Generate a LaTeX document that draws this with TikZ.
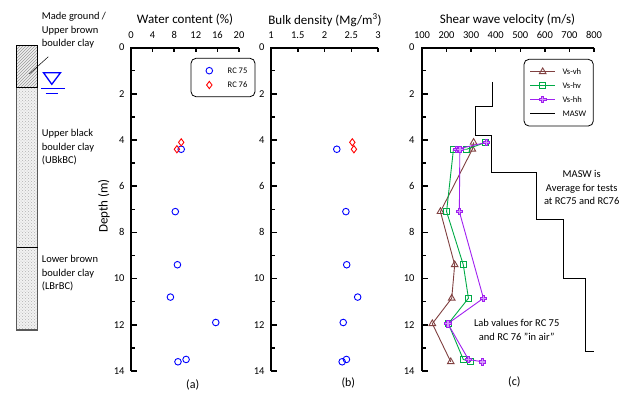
\documentclass[tikz,border=0pt]{standalone}
\usepackage{fontspec}
\setmainfont{Carlito}
\usetikzlibrary{patterns,plotmarks}
\definecolor{vsbrown}{RGB}{128,64,64}
\definecolor{vsgreen}{RGB}{0,170,70}
\definecolor{vspurple}{RGB}{160,32,240}
\definecolor{wblue}{RGB}{0,0,255}
\definecolor{wred}{RGB}{255,0,0}
\pgfdeclareplotmark{fatplus}{%
  \pgfpathmoveto{\pgfqpoint{-.35\pgfplotmarksize}{\pgfplotmarksize}}%
  \pgfpathlineto{\pgfqpoint{.35\pgfplotmarksize}{\pgfplotmarksize}}%
  \pgfpathlineto{\pgfqpoint{.35\pgfplotmarksize}{.35\pgfplotmarksize}}%
  \pgfpathlineto{\pgfqpoint{\pgfplotmarksize}{.35\pgfplotmarksize}}%
  \pgfpathlineto{\pgfqpoint{\pgfplotmarksize}{-.35\pgfplotmarksize}}%
  \pgfpathlineto{\pgfqpoint{.35\pgfplotmarksize}{-.35\pgfplotmarksize}}%
  \pgfpathlineto{\pgfqpoint{.35\pgfplotmarksize}{-\pgfplotmarksize}}%
  \pgfpathlineto{\pgfqpoint{-.35\pgfplotmarksize}{-\pgfplotmarksize}}%
  \pgfpathlineto{\pgfqpoint{-.35\pgfplotmarksize}{-.35\pgfplotmarksize}}%
  \pgfpathlineto{\pgfqpoint{-\pgfplotmarksize}{-.35\pgfplotmarksize}}%
  \pgfpathlineto{\pgfqpoint{-\pgfplotmarksize}{.35\pgfplotmarksize}}%
  \pgfpathlineto{\pgfqpoint{-.35\pgfplotmarksize}{.35\pgfplotmarksize}}%
  \pgfpathclose\pgfusepathqfillstroke}
\begin{document}
\begin{tikzpicture}[x=1pt,y=-1pt,
  axisline/.style={line width=1.8pt},
  tickmark/.style={line width=1.5pt},
  ticklab/.style={font=\fontsize{10.5}{12}\selectfont, inner sep=1pt},
  titlelab/.style={font=\fontsize{13}{15}\selectfont, inner sep=0pt},
  sublab/.style={font=\fontsize{12}{14}\selectfont, inner sep=0pt},
  soillab/.style={font=\fontsize{10.5}{13.2}\selectfont, align=left, anchor=north west, inner sep=0pt},
  notelab/.style={font=\fontsize{10.5}{13.5}\selectfont, align=center, inner sep=0pt},
  leglab/.style={font=\fontsize{8.5}{10}\selectfont, anchor=west, inner sep=0pt},
  legbox/.style={rounded corners=5pt, line width=0.8pt},
  circmark/.style={only marks, mark=o, mark size=3.3pt, mark options={wblue, line width=0.9pt}},
  diamark/.style={only marks, mark=diamond, mark size=3.6pt, mark options={wred, line width=0.9pt}},
  vhline/.style={vsbrown, line width=0.9pt, mark=triangle, mark size=3.8pt, mark options={vsbrown, line width=0.9pt}},
  hvline/.style={vsgreen, line width=0.9pt, mark=square, mark size=3pt, mark options={vsgreen, line width=0.9pt}},
  hhline/.style={vspurple, line width=0.9pt, mark=fatplus, mark size=3.2pt, mark options={draw=vspurple, fill=vspurple!45, line width=0.7pt}},
  maswline/.style={black, line width=1.1pt}
]
\useasboundingbox (0,0) rectangle (639,402);

% ---------- soil column ----------
\fill[gray!12] (16.7,45.7) rectangle (37.7,87.3);
\fill[pattern=north east lines, pattern color=gray!80] (16.7,45.7) rectangle (37.7,87.3);
\fill[gray!10] (16.7,87.3) rectangle (37.7,330);
\fill[pattern=crosshatch dots, pattern color=gray!60] (16.7,87.3) rectangle (37.7,330);
\draw[gray!70!black, line width=1.3pt] (16.7,87.3) rectangle (37.7,330);
\draw[black, line width=1.2pt] (16.7,45.7) rectangle (37.7,87.3);
\draw[black, line width=1.4pt] (16.7,247.3) -- (37.7,247.3);
\draw[black, line width=0.5pt] (48.3,56.7) -- (29.3,74);
% water table
\draw[wblue, line width=1.3pt, line join=miter] (43.5,72.7) -- (60.5,72.7) -- (51.8,84.3) -- cycle;
\draw[wblue, line width=1pt] (41,88.5) -- (65,88.5);
\draw[wblue, line width=1pt] (45.7,93.3) -- (58.3,93.3);

\node[soillab] (mg) at (41.7,12.5) {Made ground /\\Upper brown\\boulder clay};
\node[soillab] (ub) at (41.7,129.5) {Upper black\\boulder clay\\(UBkBC)};
\node[soillab] (lb) at (41.7,255.5) {Lower brown\\boulder clay\\(LBrBC)};

\node[titlelab, rotate=90] (depth) at (104,206) {Depth (m)};

% ---------- panel (a) ----------
\node[titlelab] (ta) at (185,19.5) {Water content (\%)};
\begin{scope}[shift={(131,47.6)}, x=5.4pt, y=-23.1pt]
  \draw[axisline] (0,14) -- (0,0) -- (20,0);
  \foreach \w in {4,8,...,20} \draw[tickmark] (\w,0) -- ++(0pt,-4.5pt);
  \foreach \w in {0,4,...,20} \node[ticklab] at (\w,-0.56) {\w};
  \foreach \d in {2,4,...,14} \draw[tickmark] (0,\d) -- ++(5.5pt,0pt);
  \foreach \d in {1,3,...,13} \draw[tickmark] (0,\d) -- ++(3.5pt,0pt);
  \foreach \d in {0,2,...,14} \node[ticklab, anchor=east] at (-1.0,\d) {\d};
  \draw[circmark] plot coordinates {(9.3,4.4) (8.2,7.1) (8.6,9.4) (7.3,10.8) (15.7,11.9) (10.2,13.5) (8.7,13.6)};
  \draw[diamark] plot coordinates {(9.3,4.1) (8.5,4.4)};
\end{scope}
\draw[legbox] (191,58.3) rectangle (255,96.7);
\draw[circmark] plot coordinates {(209.3,70.7)};
\draw[diamark] plot coordinates {(209.3,85)};
\node[leglab] (l75) at (227.5,70.7) {RC 75};
\node[leglab] (l76) at (227.5,85) {RC 76};
\node[sublab] (sa) at (192.7,385) {(a)};

% ---------- panel (b) ----------
\node[titlelab] (tb) at (325,20) {Bulk density (Mg/m\textsuperscript{3})};
\begin{scope}[shift={(217.5,47.6)}, x=53.5pt, y=-23.1pt]
  \draw[axisline] (1,14) -- (1,0) -- (3,0);
  \foreach \w in {1.5,2,2.5,3} \draw[tickmark] (\w,0) -- ++(0pt,-4.5pt);
  \foreach \w in {1,1.5,2,2.5,3} \node[ticklab] at (\w,-0.56) {\w};
  \foreach \d in {2,4,...,14} \draw[tickmark] (1,\d) -- ++(5.5pt,0pt);
  \foreach \d in {1,3,...,13} \draw[tickmark] (1,\d) -- ++(3.5pt,0pt);
  \foreach \d in {0,2,...,14} \node[ticklab, anchor=east] at (0.9,\d) {\d};
  \draw[circmark] plot coordinates {(2.23,4.4) (2.4,7.1) (2.415,9.4) (2.62,10.8) (2.35,11.9) (2.41,13.5) (2.33,13.6)};
  \draw[diamark] plot coordinates {(2.52,4.1) (2.55,4.4)};
\end{scope}
\node[sublab] (sb) at (348.3,383) {(b)};

% ---------- panel (c) ----------
\node[titlelab] (tc) at (507.5,19.5) {Shear wave velocity (m/s)};
\begin{scope}[shift={(397.43,47.6)}, x=0.2457pt, y=-23.1pt]
  \draw[axisline] (100,14) -- (100,0) -- (800,0);
  \foreach \w in {200,300,...,800} \draw[tickmark] (\w,0) -- ++(0pt,-4.5pt);
  \foreach \w in {100,200,...,800} \node[ticklab] at (\w,-0.56) {\w};
  \foreach \d in {2,4,...,14} \draw[tickmark] (100,\d) -- ++(5.5pt,0pt);
  \foreach \d in {1,3,...,13} \draw[tickmark] (100,\d) -- ++(3.5pt,0pt);
  \foreach \d in {0,2,...,14} \node[ticklab, anchor=east] at (74,\d) {\d};
  \draw[maswline] (386,1.48) -- (386,2.55) -- (317,2.55) -- (317,3.8) -- (384,3.8) -- (384,5.4) -- (567,5.4) -- (567,7.45) -- (675,7.45) -- (675,10) -- (767,10) -- (767,13.17) -- (800,13.17);
  \draw[vhline] plot coordinates {(310,4.1) (305,4.4) (175,7.1) (233,9.4) (221,10.85) (142,11.95) (217,13.6)};
  \draw[hvline] plot coordinates {(360,4.1) (282,4.4) (228,4.4) (200,7.1) (268,9.4) (289,10.85) (207,11.95) (268,13.5) (299,13.6)};
  \draw[hhline] plot coordinates {(363,4.1) (241,4.4) (254,4.4) (252,7.1) (350,10.85) (205,11.95) (289,13.5) (345,13.6)};
\end{scope}
\draw[legbox] (524,59.3) rectangle (593.3,126);
\draw[vhline, mark indices={2}] plot coordinates {(530,71.7) (542.7,71.7) (555.3,71.7)};
\draw[hvline, mark indices={2}] plot coordinates {(530,85.3) (542.7,85.3) (555.3,85.3)};
\draw[hhline, mark indices={2}] plot coordinates {(530,99.3) (542.7,99.3) (555.3,99.3)};
\draw[maswline] (530,113.3) -- (555.3,113.3);
\node[leglab] (lvh) at (562.3,71.7) {Vs-vh};
\node[leglab] (lhv) at (562.3,85.3) {Vs-hv};
\node[leglab] (lhh) at (562.3,99.3) {Vs-hh};
\node[leglab] (lms) at (562.3,113.3) {MASW};
\node[notelab] (nmasw) at (581.7,187.7) {MASW is\\Average for tests\\at RC75 and RC76};
\node[notelab] (nlab) at (516.7,329.7) {Lab values for RC 75\\and RC 76 "in air"};
\node[sublab] (sc) at (514.3,382) {(c)};
\end{tikzpicture}
\end{document}
